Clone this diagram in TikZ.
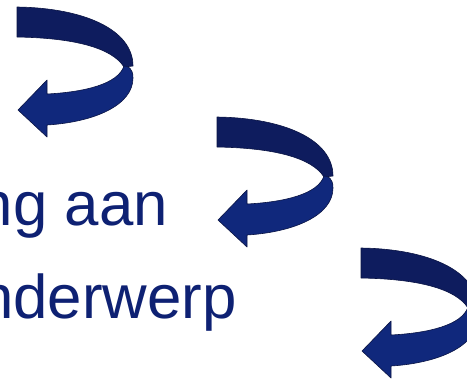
\documentclass[tikz,border=0pt]{standalone}
\usepackage{fontspec}
\setmainfont{Liberation Sans}
\usetikzlibrary{positioning}

\definecolor{bandback}{RGB}{14,28,94}
\definecolor{bandfront}{RGB}{16,40,124}
\definecolor{bandedge}{RGB}{10,20,68}
\definecolor{slidetext}{RGB}{14,33,115}

\begin{document}
\begin{tikzpicture}[x=1bp,y=-1bp,
                    backband/.style={fill=bandback,draw=bandedge,line width=0.6bp,line join=round},
                    frontband/.style={fill=bandfront,draw=bandedge,line width=0.6bp,line join=round},
                    slideline/.style={inner sep=0pt,text=slidetext,anchor=base east,
                                      font=\fontsize{62}{70}\selectfont}]

  \useasboundingbox (0,0) rectangle (467,382);

  % the three turning arrows
  \foreach \dx/\dy in {0/0, 200/110, 344/241}{
    \begin{scope}[shift={(\dx,\dy)}]
      \path[backband] (17,7) .. controls (85,8) and (133,30) .. (133,66)
                      -- (124,67) .. controls (112,48) and (75,38) .. (17,37) -- cycle;
      \path[frontband] (124,66) .. controls (128,66) and (133,68) .. (133,78)
                       .. controls (133,105) and (95,122) .. (47,125)
                       -- (47,137) -- (18,110) -- (47,80) -- (47,94)
                       .. controls (85,92) and (118,84) .. cycle;
    \end{scope}
  }

  \node[slideline] (line1) at (168,225) {ng aan};
  \node[slideline] (line2) at (237,318) {nderwerp};
\end{tikzpicture}
\end{document}
